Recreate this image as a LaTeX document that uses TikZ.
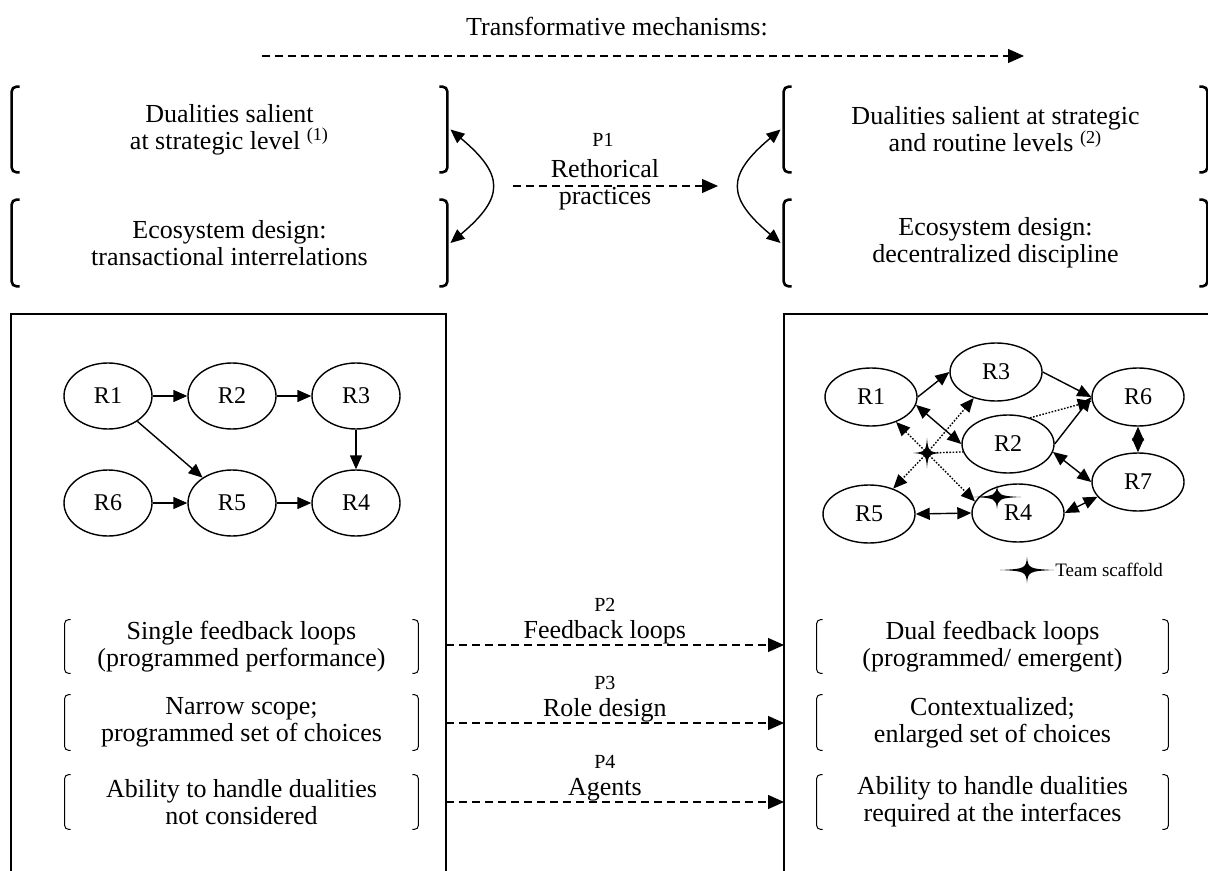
\documentclass[tikz,border=0pt]{standalone}
\usepackage{fontspec}
\setmainfont{Liberation Serif}
\usetikzlibrary{arrows.meta,shapes.geometric,calc,positioning}

% four-pointed team scaffold sign
\tikzset{pics/scaffold/.style 2 args={code={%
  \fill (-#1,0) .. controls (-2,-1) and (-1,-2) .. (0,-#2)
        .. controls (1,-2) and (2,-1) .. (#1,0)
        .. controls (2,1) and (1,2) .. (0,#2)
        .. controls (-1,2) and (-2,1) .. (-#1,0) -- cycle;}}}

% square brackets round a node
\newcommand\bigbrackets[1]{%
  \draw[line width=1.3pt, rounded corners=2.5pt]
    ($(#1.north west)+(8,0)$) -- (#1.north west) -- (#1.south west) -- ($(#1.south west)+(8,0)$)
    ($(#1.north east)+(-8,0)$) -- (#1.north east) -- (#1.south east) -- ($(#1.south east)+(-8,0)$);}
\newcommand\smallbrackets[1]{%
  \draw[line width=0.5pt, rounded corners=2pt]
    ($(#1.north west)+(6,0)$) -- (#1.north west) -- (#1.south west) -- ($(#1.south west)+(6,0)$)
    ($(#1.north east)+(-6,0)$) -- (#1.north east) -- (#1.south east) -- ($(#1.south east)+(-6,0)$);}

\begin{document}
\begin{tikzpicture}[x=0.5pt, y=-0.5pt,
  txt/.style={font=\fontsize{13}{13.5}\selectfont, align=center, inner sep=0pt},
  plab/.style={font=\fontsize{10}{11}\selectfont, inner sep=0pt},
  lrole/.style={draw, ellipse, line width=0.7pt, minimum width=44pt, minimum height=33pt, inner sep=0pt, font=\fontsize{12}{13}\selectfont},
  rrole/.style={lrole, minimum width=46pt, minimum height=29pt},
  flow/.style={-{Triangle[length=7pt,width=6pt]}, line width=0.7pt},
  bothflow/.style={{Triangle[length=7pt,width=6pt]}-{Triangle[length=7pt,width=6pt]}, line width=0.7pt},
  mech/.style={-{Triangle[length=8pt,width=7pt]}, line width=0.6pt, dash pattern=on 4pt off 2.5pt},
  scafline/.style={line width=0.7pt, dash pattern=on 0.8pt off 0.8pt}]
\useasboundingbox (0,0) rectangle (1208,871);

%% title
\node[txt] (mech) at (617,27) {Transformative mechanisms:};
\coordinate (mechA) at (262,56);
\coordinate (mechB) at (1024,56);
\draw[mech] (mechA) -- (mechB);

%% ecosystem level, before / after
\node[txt, minimum width=217.5pt, minimum height=42.5pt] (dualL) at (229.5,129.5) {Dualities salient\\at strategic level \textsuperscript{(1)}};
\node[txt, minimum width=217.5pt, minimum height=43pt] (ecoL) at (229.5,243) {Ecosystem design:\\transactional interrelations};
\node[txt, minimum width=211.5pt, minimum height=42.5pt] (dualR) at (995.5,129.5) {Dualities salient at strategic\\and routine levels \textsuperscript{(2)}};
\node[txt, minimum width=211.5pt, minimum height=43pt] (ecoR) at (995.5,243) {Ecosystem design:\\decentralized discipline};
\foreach \b in {dualL,ecoL,dualR,ecoR}
  \bigbrackets{\b};

\draw[bothflow] ([xshift=1.5pt]dualL.east) to[bend left=50, looseness=1.6] ([xshift=1.5pt]ecoL.east);
\draw[bothflow] ([xshift=-1.5pt]dualR.west) to[bend right=50, looseness=1.6] ([xshift=-1.5pt]ecoR.west);

% P1
\node[plab] (p1) at (603,140) {P1};
\coordinate (rhetA) at (513,186);
\coordinate (rhetB) at (718,186);
\draw[mech] (rhetA) -- (rhetB);
\node[txt] (rhet) at (605,185) {Rethorical\\practices};

%% the two role boxes (open at the bottom)
\draw[line width=0.7pt] (11,871) -- (11,314) -- (446,314) -- (446,871);
\draw[line width=0.7pt] (784,871) -- (784,314) -- (1208,314);

% programmed roles
\foreach \n/\x/\y in {1/108/396, 2/232/396, 3/356/396, 4/356/503, 5/232/503, 6/108/503}
  \node[lrole] (l\n) at (\x,\y) {R\n};
\foreach \a/\b in {1/2, 2/3, 3/4, 1/5, 6/5, 5/4}
  \draw[flow] (l\a) -- (l\b);

% contextualized roles
\foreach \n/\x/\y in {1/871/397, 2/1008/444, 3/996/372, 4/1018/513, 5/869/514, 6/1138/397, 7/1138/482}
  \node[rrole] (r\n) at (\x,\y) {R\n};
\draw[flow] (r1.east) -- (r3.west);
\draw[bothflow] (r1.-10) -- (r2.west);
\draw[flow] (r3.east) -- (r6.west);
\draw[flow] (r2.east) -- (r6.west);
\draw[scafline, -{Triangle[length=7pt,width=6pt]}] (r2.50) -- (r6.185);
\draw[bothflow] (r6.south) -- (r7.north);
\draw[bothflow] (r2.-10) -- (r7.west);
\draw[bothflow] (r4.east) -- (r7.200);
\draw[bothflow] (r5.east) -- (r4.west);

% scaffold
\coordinate (hub) at (927,453);
\foreach \t in {r1,r3,r5,r4.165}
  \draw[scafline, -{Triangle[length=7pt,width=6pt]}] (hub) -- (\t);
\draw[scafline] (hub) -- (r2.190);
\pic at (hub) {scaffold={14}{15}};
\pic at (997,497) {scaffold={24}{12}};

% legend
\pic at (1027,570) {scaffold={27}{13}};
\node[anchor=west, inner sep=0pt, font=\fontsize{9.5}{10}\selectfont] (scaff) at (1055,570) {Team scaffold};

%% role level, before / after
\node[txt, minimum width=176.5pt, minimum height=26.5pt] (singleL) at (241.5,646.5) {Single feedback loops\\(programmed performance)};
\node[txt, minimum width=176.5pt, minimum height=27.5pt] (narrowL) at (241.5,722.5) {Narrow scope;\\programmed set of choices};
\node[txt, minimum width=176.5pt, minimum height=27pt] (abilityL) at (241.5,802) {Ability to handle dualities\\not considered};
\node[txt, minimum width=175.5pt, minimum height=26.5pt] (dualfbR) at (992.5,646.5) {Dual feedback loops\\(programmed/ emergent)};
\node[txt, minimum width=175.5pt, minimum height=27.5pt] (contextR) at (992.5,722.5) {Contextualized;\\enlarged set of choices};
\node[txt, minimum width=175.5pt, minimum height=27pt] (abilityR) at (992.5,802) {Ability to handle dualities\\required at the interfaces};
\foreach \b in {singleL,narrowL,abilityL,dualfbR,contextR,abilityR}
  \smallbrackets{\b};

% P2 - P4
\foreach \n/\y/\lbl in {2/645/Feedback loops, 3/723/Role design, 4/802/Agents}{
  \coordinate (pa\n) at (446,\y);
  \coordinate (pb\n) at (784,\y);
  \draw[mech] (pa\n) -- (pb\n) node[pos=0.47, above=0pt, txt] {{\fontsize{10}{11}\selectfont P\n}\\\lbl};
}

\end{tikzpicture}
\end{document}
